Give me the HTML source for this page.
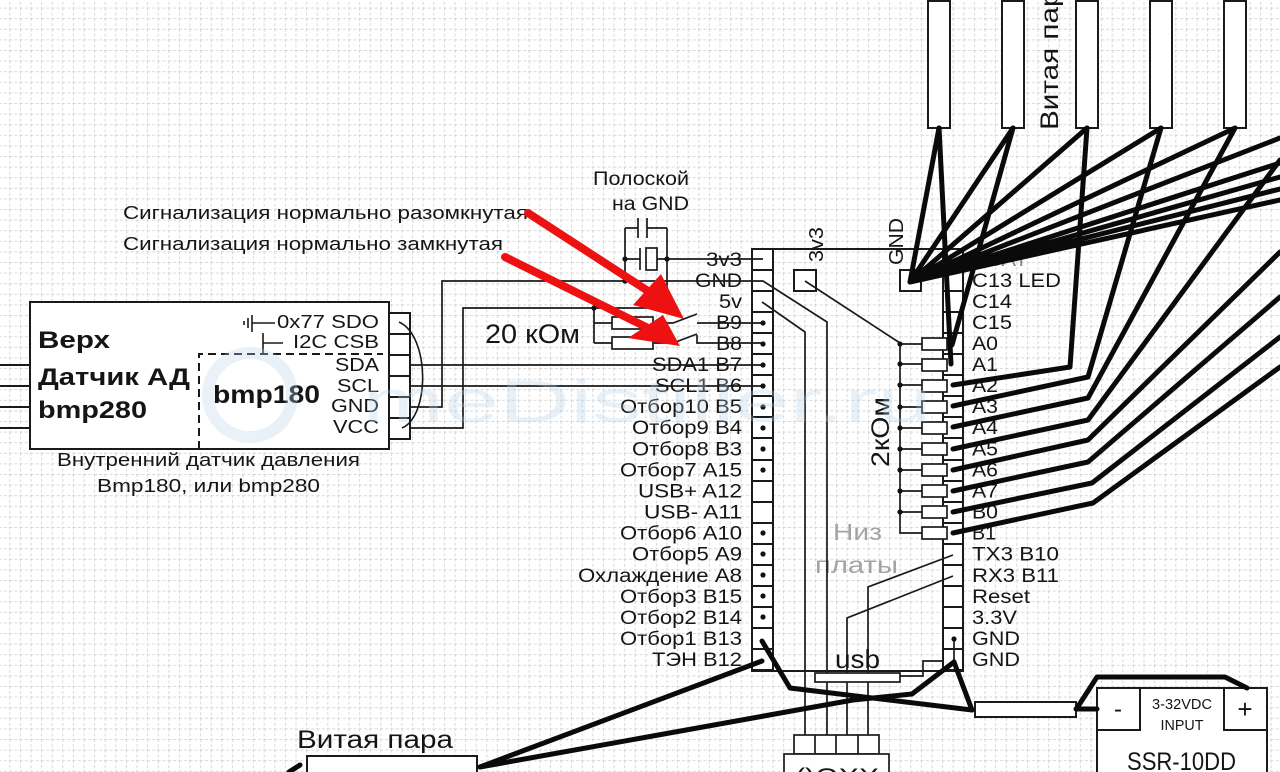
<!DOCTYPE html>
<html><head><meta charset="utf-8"><style>
html,body{margin:0;padding:0;background:#fff;overflow:hidden;}
svg{display:block;}
text{font-family:"Liberation Sans",sans-serif;fill:#151515;}
</style></head><body>
<svg width="1280" height="772" viewBox="0 0 1280 772" xmlns="http://www.w3.org/2000/svg">
<defs>
<pattern id="g" x="9.3" y="7.6" width="10.6" height="10.6" patternUnits="userSpaceOnUse">
<path d="M0.5 0V10.6M0 0.5H10.6" stroke="#d8d8d8" stroke-width="1" stroke-dasharray="3 2" fill="none"/>
</pattern>
</defs>
<rect width="1280" height="772" fill="#fff"/>
<rect width="1280" height="772" fill="url(#g)"/>

<!-- ===== Left sensor box ===== -->
<g stroke="#1a1a1a" stroke-width="2" fill="none">
<path d="M0 365H30M0 386H30M0 407H30M0 428H30"/>
<rect x="30" y="302" width="359" height="147" fill="#fff"/>
<path d="M199 449V354H383" stroke-dasharray="8 5"/>
<rect x="389" y="313" width="21" height="126" fill="#fff"/>
<path d="M389 334H410M389 355H410M389 376H410M389 397H410M389 418H410"/>
</g>
<g stroke="#1a1a1a" stroke-width="1.6" fill="none">
<path d="M399 322C430 336 430 416 402 428"/>
<path d="M244 321V325M248 318V328M252 315V332M252 323H275"/>
<path d="M263 333V353M263 343H283"/>
</g>
<g font-weight="bold">
<text x="38" y="348" font-size="24" textLength="72" lengthAdjust="spacingAndGlyphs">Верх</text>
<text x="38" y="385" font-size="24" textLength="152" lengthAdjust="spacingAndGlyphs">Датчик АД</text>
<text x="38" y="418" font-size="24" textLength="109" lengthAdjust="spacingAndGlyphs">bmp280</text>
<text x="213" y="403" font-size="25" textLength="107" lengthAdjust="spacingAndGlyphs">bmp180</text>
</g>
<g font-size="18" text-anchor="end">
<text x="379" y="328" textLength="102" lengthAdjust="spacingAndGlyphs">0x77 SDO</text>
<text x="379" y="348" textLength="86" lengthAdjust="spacingAndGlyphs">I2C CSB</text>
<text x="379" y="371" textLength="44" lengthAdjust="spacingAndGlyphs">SDA</text>
<text x="379" y="392" textLength="42" lengthAdjust="spacingAndGlyphs">SCL</text>
<text x="379" y="412" textLength="48" lengthAdjust="spacingAndGlyphs">GND</text>
<text x="379" y="433" textLength="46" lengthAdjust="spacingAndGlyphs">VCC</text>
</g>
<text x="57" y="466" font-size="18" textLength="303" lengthAdjust="spacingAndGlyphs">Внутренний датчик давления</text>
<text x="97" y="492" font-size="18" textLength="223" lengthAdjust="spacingAndGlyphs">Bmp180, или bmp280</text>

<!-- ===== Top labels ===== -->
<text x="123" y="219" font-size="18" textLength="405" lengthAdjust="spacingAndGlyphs">Сигнализация нормально разомкнутая</text>
<text x="123" y="250" font-size="18" textLength="380" lengthAdjust="spacingAndGlyphs">Сигнализация нормально замкнутая</text>
<text x="593" y="185" font-size="19" textLength="96" lengthAdjust="spacingAndGlyphs">Полоской</text>
<text x="612" y="210" font-size="19" textLength="77" lengthAdjust="spacingAndGlyphs">на GND</text>
<text x="485" y="343" font-size="27" textLength="95" lengthAdjust="spacingAndGlyphs">20 кОм</text>

<!-- ===== Board ===== -->
<g stroke="#1a1a1a" stroke-width="2" fill="none">
<path d="M752 249H963V671H752Z"/>
<rect x="752" y="249" width="21" height="421" fill="#fff"/>
<rect x="943" y="249" width="20" height="421" fill="#fff"/>
<path d="M752 270H773M752 291H773M752 312H773M752 333H773M752 354H773M752 375H773M752 396H773M752 417H773M752 438H773M752 460H773M752 481H773M752 502H773M752 523H773M752 544H773M752 565H773M752 586H773M752 607H773M752 628H773M752 649H773"/>
<path d="M943 270H963M943 291H963M943 312H963M943 333H963M943 354H963M943 375H963M943 396H963M943 417H963M943 438H963M943 460H963M943 481H963M943 502H963M943 523H963M943 544H963M943 565H963M943 586H963M943 607H963M943 628H963M943 649H963"/>
<rect x="794" y="270" width="22" height="21" fill="#fff"/>
<rect x="900" y="270" width="21" height="21" fill="#fff"/>
</g>

<!-- left column labels -->
<g font-size="19" text-anchor="end">
<text x="742" y="266" textLength="36" lengthAdjust="spacingAndGlyphs">3v3</text>
<text x="742" y="287" textLength="47" lengthAdjust="spacingAndGlyphs">GND</text>
<text x="742" y="308" textLength="23" lengthAdjust="spacingAndGlyphs">5v</text>
<text x="742" y="329" textLength="26" lengthAdjust="spacingAndGlyphs">B9</text>
<text x="742" y="350" textLength="26" lengthAdjust="spacingAndGlyphs">B8</text>
<text x="742" y="371" textLength="90" lengthAdjust="spacingAndGlyphs">SDA1 B7</text>
<text x="742" y="392" textLength="87" lengthAdjust="spacingAndGlyphs">SCL1 B6</text>
<text x="742" y="413" textLength="122" lengthAdjust="spacingAndGlyphs">Отбор10 B5</text>
<text x="742" y="434" textLength="110" lengthAdjust="spacingAndGlyphs">Отбор9 B4</text>
<text x="742" y="455.5" textLength="110" lengthAdjust="spacingAndGlyphs">Отбор8 B3</text>
<text x="742" y="476.5" textLength="122" lengthAdjust="spacingAndGlyphs">Отбор7 A15</text>
<text x="742" y="497.5" textLength="104" lengthAdjust="spacingAndGlyphs">USB+ A12</text>
<text x="742" y="518.5" textLength="98" lengthAdjust="spacingAndGlyphs">USB- A11</text>
<text x="742" y="539.5" textLength="122" lengthAdjust="spacingAndGlyphs">Отбор6 A10</text>
<text x="742" y="560.5" textLength="110" lengthAdjust="spacingAndGlyphs">Отбор5 A9</text>
<text x="742" y="582" textLength="164" lengthAdjust="spacingAndGlyphs">Охлаждение A8</text>
<text x="742" y="603" textLength="122" lengthAdjust="spacingAndGlyphs">Отбор3 B15</text>
<text x="742" y="624" textLength="122" lengthAdjust="spacingAndGlyphs">Отбор2 B14</text>
<text x="742" y="645" textLength="122" lengthAdjust="spacingAndGlyphs">Отбор1 B13</text>
<text x="742" y="666" textLength="90" lengthAdjust="spacingAndGlyphs">ТЭН B12</text>
</g>

<!-- right column labels -->
<g font-size="19">
<text x="972" y="266" style="fill:#8a8a8a" textLength="56" lengthAdjust="spacingAndGlyphs">VBAT</text>
<text x="972" y="287" textLength="89" lengthAdjust="spacingAndGlyphs">C13 LED</text>
<text x="972" y="308" textLength="40" lengthAdjust="spacingAndGlyphs">C14</text>
<text x="972" y="329" textLength="40" lengthAdjust="spacingAndGlyphs">C15</text>
<text x="972" y="350" textLength="26" lengthAdjust="spacingAndGlyphs">A0</text>
<text x="972" y="371" textLength="26" lengthAdjust="spacingAndGlyphs">A1</text>
<text x="972" y="392" textLength="26" lengthAdjust="spacingAndGlyphs">A2</text>
<text x="972" y="413" textLength="26" lengthAdjust="spacingAndGlyphs">A3</text>
<text x="972" y="434" textLength="26" lengthAdjust="spacingAndGlyphs">A4</text>
<text x="972" y="455.5" textLength="26" lengthAdjust="spacingAndGlyphs">A5</text>
<text x="972" y="476.5" textLength="26" lengthAdjust="spacingAndGlyphs">A6</text>
<text x="972" y="497.5" textLength="26" lengthAdjust="spacingAndGlyphs">A7</text>
<text x="972" y="518.5" textLength="26" lengthAdjust="spacingAndGlyphs">B0</text>
<text x="972" y="539.5" textLength="24" lengthAdjust="spacingAndGlyphs">B1</text>
<text x="972" y="560.5" textLength="87" lengthAdjust="spacingAndGlyphs">TX3 B10</text>
<text x="972" y="582" textLength="87" lengthAdjust="spacingAndGlyphs">RX3 B11</text>
<text x="972" y="603" textLength="58" lengthAdjust="spacingAndGlyphs">Reset</text>
<text x="972" y="624" textLength="45" lengthAdjust="spacingAndGlyphs">3.3V</text>
<text x="972" y="645" textLength="48" lengthAdjust="spacingAndGlyphs">GND</text>
<text x="972" y="666" textLength="48" lengthAdjust="spacingAndGlyphs">GND</text>
</g>

<!-- rotated labels -->
<text transform="translate(823,262) rotate(-90)" font-size="20" textLength="35" lengthAdjust="spacingAndGlyphs">3v3</text>
<text transform="translate(903,265) rotate(-90)" font-size="20" textLength="47" lengthAdjust="spacingAndGlyphs">GND</text>
<text transform="translate(889,467) rotate(-90)" font-size="25" textLength="70" lengthAdjust="spacingAndGlyphs">2кОм</text>
<text x="833" y="540" font-size="23" style="fill:#a3a3a3" textLength="49" lengthAdjust="spacingAndGlyphs">Низ</text>
<text x="815" y="573" font-size="23" style="fill:#a3a3a3" textLength="83" lengthAdjust="spacingAndGlyphs">платы</text>

<!-- ===== thin wires ===== -->
<g stroke="#1a1a1a" stroke-width="1.7" fill="none">
<path d="M410 365H763M410 386H763"/>
<path d="M410 407H442V281H763L827 322V735"/>
<path d="M410 428H463V308H667V228"/>
<path d="M667 259H763"/>
<path d="M625 228V281"/>
<path d="M625 228H638M647 228H667"/>
<path d="M638 218V238M647 218V238"/>
<path d="M625 259H640M657 259H667"/>
<path d="M640 248V270"/>
<rect x="646" y="248" width="11" height="22"/>
<path d="M594 308V343M594 323H612M594 343H612"/>
<path d="M653 323H673L697 314M697 323H763"/>
<path d="M653 343H673L697 334M697 335V343H763"/>
<path d="M762 302L805 332V735"/>
<path d="M805 281L900 343V533H922"/>
<path d="M900 364H922M900 385H922M900 407H922M900 428H922M900 449H922M900 470H922M900 491H922M900 512H922M900 344H922"/>
<path d="M953 555L868 587V735"/>
<path d="M953 576L847 618V735"/>
<path d="M900 676H923V661H943"/>
<path d="M954 639V662"/>
</g>
<g stroke="#1a1a1a" stroke-width="1.7" fill="#fff">
<rect x="612" y="317" width="41" height="12"/>
<rect x="612" y="337" width="41" height="12"/>
<rect x="922" y="338" width="25" height="12"/>
<rect x="922" y="359" width="25" height="12"/>
<rect x="922" y="380" width="25" height="12"/>
<rect x="922" y="401" width="25" height="12"/>
<rect x="922" y="422" width="25" height="12"/>
<rect x="922" y="443" width="25" height="12"/>
<rect x="922" y="464" width="25" height="12"/>
<rect x="922" y="485" width="25" height="12"/>
<rect x="922" y="506" width="25" height="12"/>
<rect x="922" y="527" width="25" height="12"/>
<rect x="815" y="673" width="85" height="9"/>
<rect x="794" y="735" width="85" height="19"/>
<rect x="784" y="754" width="105" height="30"/>
</g>
<path d="M815 735V754M836 735V754M858 735V754" stroke="#1a1a1a" stroke-width="1.7"/>
<text x="795" y="785" font-size="24" textLength="84" lengthAdjust="spacingAndGlyphs">()OXX</text>
<text x="835" y="668" font-size="26" textLength="45" lengthAdjust="spacingAndGlyphs">usb</text>

<!-- dots -->
<g fill="#111">
<circle cx="625" cy="259" r="2.6"/><circle cx="667" cy="259" r="2.6"/>
<circle cx="625" cy="281" r="2.6"/><circle cx="594" cy="308" r="2.6"/>
<circle cx="763" cy="323" r="2.6"/><circle cx="763" cy="344" r="2.6"/>
<circle cx="763" cy="365" r="2.6"/><circle cx="763" cy="386" r="2.6"/>
<circle cx="763" cy="407" r="2.6"/><circle cx="763" cy="428" r="2.6"/>
<circle cx="763" cy="449" r="2.6"/><circle cx="763" cy="470" r="2.6"/>
<circle cx="763" cy="533" r="2.6"/><circle cx="763" cy="554" r="2.6"/>
<circle cx="763" cy="575" r="2.6"/><circle cx="763" cy="596" r="2.6"/>
<circle cx="763" cy="617" r="2.6"/>
<circle cx="900" cy="344" r="2.6"/><circle cx="900" cy="364" r="2.6"/>
<circle cx="900" cy="385" r="2.6"/><circle cx="900" cy="407" r="2.6"/>
<circle cx="900" cy="428" r="2.6"/><circle cx="900" cy="449" r="2.6"/>
<circle cx="900" cy="470" r="2.6"/><circle cx="900" cy="491" r="2.6"/>
<circle cx="900" cy="512" r="2.6"/>
<circle cx="954" cy="639" r="2.6"/>
</g>

<!-- ===== top resistors ===== -->
<g stroke="#1a1a1a" stroke-width="2" fill="#fff">
<rect x="928" y="1" width="22" height="127"/>
<rect x="1002" y="1" width="22" height="127"/>
<rect x="1076" y="1" width="22" height="127"/>
<rect x="1150" y="1" width="22" height="127"/>
<rect x="1224" y="1" width="22" height="127"/>
</g>
<text transform="translate(1058,130) rotate(-90)" font-size="25" textLength="156" lengthAdjust="spacingAndGlyphs">Витая пара</text>

<!-- ===== bottom boxes ===== -->
<g stroke="#1a1a1a" stroke-width="2" fill="#fff">
<rect x="307" y="756" width="170" height="30"/>
<rect x="975" y="702" width="101" height="15"/>
<rect x="1097" y="688" width="170" height="100"/>
<rect x="1097" y="688" width="43" height="42"/>
<rect x="1224" y="688" width="43" height="42"/>
</g>
<text x="297" y="748" font-size="25" textLength="156" lengthAdjust="spacingAndGlyphs">Витая пара</text>
<text x="1182" y="709" font-size="15" text-anchor="middle" textLength="60" lengthAdjust="spacingAndGlyphs">3-32VDC</text>
<text x="1182" y="730" font-size="15" text-anchor="middle" textLength="43" lengthAdjust="spacingAndGlyphs">INPUT</text>
<text x="1118" y="717" font-size="24" text-anchor="middle">-</text>
<text x="1245" y="718" font-size="26" text-anchor="middle">+</text>
<text x="1127" y="770" font-size="25" textLength="109" lengthAdjust="spacingAndGlyphs">SSR-10DD</text>

<!-- ===== thick wires ===== -->
<g stroke="#0a0a0a" stroke-width="5" fill="none" stroke-linejoin="round" stroke-linecap="round">
<path d="M910 282L939 128M910 282L1013 128M910 282L1087 128M910 282L1161 128M910 282L1235 128"/>
<path d="M910 282L1280 138M910 282L1280 163M910 282L1280 177M910 282L1280 189M910 282L1280 200"/>
<path d="M939 128L951 364"/>
<path d="M1013 128L952 345"/>
<path d="M953 385L1070 367L1087 128"/>
<path d="M953 406L1088 377L1161 128"/>
<path d="M953 427L1088 398L1235 128"/>
<path d="M953 449L1088 420L1243 210L1280 160"/>
<path d="M953 470L1088 440L1280 252"/>
<path d="M953 491L1088 462L1280 297"/>
<path d="M953 512L1092 483L1280 337"/>
<path d="M953 533L1093 503L1280 367"/>
<path d="M762 641L790 688L972 710"/>
<path d="M954 662L972 710"/>
<path d="M954 662L912 694L853 700L480 767"/>
<path d="M762 661L480 767"/>
<path d="M1076 709H1097"/>
<path d="M1077 708L1097 677H1225L1247 688"/>
<path d="M289 772L300 765"/>
</g>

<!-- ===== red arrows ===== -->
<g stroke="#ee1111" stroke-width="8" stroke-linecap="round" fill="none">
<path d="M528 213L648 291"/>
<path d="M505 257L646 327"/>
</g>
<g fill="#ee1111">
<polygon points="684,319 661,274 633,305"/>
<polygon points="680,346 663,315 628,338"/>
</g>

<!-- watermark -->
<g opacity="0.3">
<circle cx="250" cy="395" r="42" fill="none" stroke="#b9d2ea" stroke-width="12"/>
<text x="362" y="422" font-size="60" style="fill:#b9d2ea" textLength="570" lengthAdjust="spacingAndGlyphs">meDistiller.ru</text>
</g>
</svg>
</body></html>
